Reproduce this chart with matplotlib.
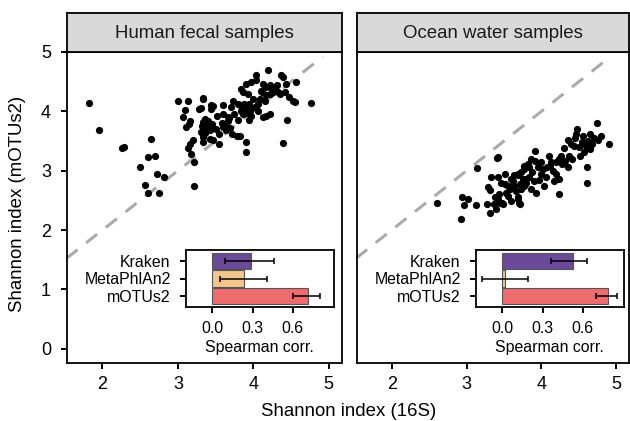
import matplotlib
matplotlib.use("Agg")
import matplotlib.pyplot as plt
import numpy as np

plt.rcParams['font.family'] = ['Liberation Sans', 'DejaVu Sans']

# ---------------- data ----------------
panel_titles = ["Human fecal samples", "Ocean water samples"]

fecal_x = [1.82, 1.95, 2.26, 2.28, 2.65, 2.61, 2.70, 2.50, 2.72, 2.82, 2.57, 2.61, 2.75, 3.22,
           3.00, 3.13, 3.10, 3.33, 3.31, 3.28, 3.44, 3.44, 3.07, 3.16, 3.15, 3.11, 3.60, 3.73, 3.71, 3.60,
           3.36, 3.34, 3.40, 3.32, 3.38, 3.45, 3.42, 3.47, 3.36,
           3.31, 3.35, 3.33, 3.42, 3.47, 3.55,
           3.62, 3.66, 3.64, 3.69, 3.60, 3.66, 3.68, 3.80, 3.78, 3.82, 3.55, 3.20, 3.16, 3.13, 3.18, 3.33,
           3.22, 3.91, 3.91,
           3.93, 3.84, 3.86, 3.91, 4.03, 4.03, 3.97,
           3.82, 3.86, 3.84, 3.88, 3.91, 3.86, 3.93, 3.95, 3.90, 3.80, 3.96,
           3.97, 3.95, 4.06, 4.02, 4.06,
           4.13, 4.17, 4.22, 4.20, 4.11, 4.17, 4.22, 4.26, 4.15, 4.09, 4.29, 4.31, 4.37, 4.40, 4.44, 4.42,
           4.35, 4.57, 4.48, 4.53, 4.55, 4.77, 4.45, 4.40, 4.22, 4.17, 4.13, 4.33,
           3.46, 3.34, 3.52, 3.58, 3.75, 4.00, 4.25, 4.10, 3.72, 3.50]
fecal_y = [4.14, 3.69, 3.38, 3.40, 3.54, 3.23, 3.25, 3.06, 2.94, 2.89, 2.76, 2.63, 2.62, 2.75,
           4.18, 4.17, 4.03, 4.20, 4.05, 4.04, 4.10, 4.04, 3.90, 3.84, 3.79, 3.73, 4.10, 4.18, 4.07, 3.96,
           3.87, 3.82, 3.84, 3.76, 3.73, 3.79, 3.68, 3.72, 3.63,
           3.66, 3.68, 3.56, 3.54, 3.51, 3.62,
           3.78, 3.84, 3.68, 3.72, 3.74, 3.90, 3.88, 3.85, 3.59, 3.59, 3.45, 3.51, 3.45, 3.38, 3.28, 3.48,
           3.14, 3.48, 3.31,
           4.30, 4.38, 4.32, 4.46, 4.62, 4.52, 4.49,
           4.10, 4.05, 4.00, 4.12, 3.98, 3.95, 4.05, 4.12, 4.08, 4.13, 4.00,
           3.93, 3.85, 4.12, 4.07, 4.01,
           4.46, 4.41, 4.44, 4.69, 4.32, 4.27, 4.30, 4.32, 4.18, 4.21, 4.41, 4.44, 4.61, 4.58, 4.46, 4.32,
           4.30, 4.49, 4.24, 4.18, 4.15, 4.14, 3.85, 3.46, 3.96, 3.93, 3.90, 4.32,
           4.09, 4.22, 3.92, 3.80, 3.95, 4.20, 4.38, 4.35, 3.62, 3.70]

ocean_x = [2.61, 2.92, 2.94, 3.02, 2.97, 3.12, 3.27, 3.31, 3.39, 3.37, 3.45, 3.48, 3.70, 3.14, 3.41,
           3.33, 3.42, 3.29, 3.31, 3.51, 3.46, 3.51, 3.38, 3.42, 3.49, 3.44, 3.53, 3.60, 3.64, 3.69,
           3.58, 3.62, 3.66, 3.71, 3.69, 3.73, 3.77, 3.80, 3.77, 3.55, 3.60,
           4.74, 4.90, 4.79, 4.76, 4.65, 4.48, 4.46, 4.35, 4.39, 4.43, 4.54, 4.59, 4.65, 4.57, 4.52,
           4.61, 4.61, 4.37, 4.32, 4.28, 4.35, 4.41, 4.26, 4.24, 4.19, 4.10, 4.13, 4.08, 4.15, 4.19,
           4.24, 4.17, 4.24, 3.91, 3.86, 3.91, 3.82, 3.84, 3.88, 3.95, 4.02, 3.99, 4.06, 4.04, 3.77,
           3.73, 3.69, 3.75, 3.80, 3.64, 3.55, 3.86, 3.93, 3.69, 3.71, 3.42,
           4.70, 4.62, 4.50, 4.45, 4.55, 4.68, 4.30, 4.00, 3.97, 3.90, 3.62, 3.84, 4.12]
ocean_y = [2.45, 2.18, 2.55, 2.52, 2.42, 2.43, 2.44, 2.29, 2.36, 2.44, 2.45, 2.45, 2.45, 3.05, 3.21,
           2.89, 2.89, 2.72, 2.68, 2.94, 2.80, 2.77, 2.55, 2.52, 2.44, 2.61, 2.63, 2.86, 2.92, 2.94,
           2.69, 2.75, 2.66, 2.77, 2.52, 2.69, 2.75, 2.86, 3.08, 2.58, 2.49,
           3.80, 3.45, 3.59, 3.52, 3.62, 3.70, 3.62, 3.51, 3.45, 3.42, 3.48, 3.42, 3.37, 3.31, 3.25,
           3.06, 2.80, 3.25, 3.17, 3.11, 3.06, 3.20, 3.25, 3.20, 3.14, 3.25, 3.14, 3.06, 3.00, 2.94,
           2.86, 2.83, 2.61, 3.34, 3.20, 3.17, 3.11, 3.06, 2.97, 3.06, 3.03, 2.94, 2.89, 2.75, 3.03,
           2.97, 2.92, 2.86, 2.80, 2.75, 2.75, 2.69, 2.63, 2.55, 2.44, 3.23,
           3.55, 3.50, 3.40, 3.55, 3.58, 3.45, 3.38, 3.15, 2.85, 2.83, 2.82, 2.90, 3.08]

methods = ["Kraken", "MetaPhlAn2", "mOTUs2"]
method_colors = ["#6B4A99", "#F4C68D", "#EE6C6E"]
fecal_corr = [0.287, 0.239, 0.714]
fecal_lo = [0.095, 0.060, 0.600]
fecal_hi = [0.458, 0.408, 0.804]
ocean_corr = [0.525, 0.018, 0.787]
ocean_lo = [0.366, -0.154, 0.697]
ocean_hi = [0.634, 0.194, 0.856]

main_ticks = [0, 1, 2, 3, 4, 5]
x_ticks = [2, 3, 4, 5]
inset_ticks = [0.0, 0.3, 0.6]

# ---------------- layout ----------------
W, H = 630, 421
fig = plt.figure(figsize=(W / 100, H / 100), dpi=100)


def box(x0, y0, x1, y1):
    return [x0 / W, 1 - y1 / H, (x1 - x0) / W, (y1 - y0) / H]


panels = [
    dict(title=panel_titles[0], x=fecal_x, y=fecal_y, corr=fecal_corr, lo=fecal_lo, hi=fecal_hi,
         ax=(67, 52, 341.5, 363), strip=(67, 13, 341.5, 52), inset=(185.7, 250.3, 334, 306.7), ylab=True),
    dict(title=panel_titles[1], x=ocean_x, y=ocean_y, corr=ocean_corr, lo=ocean_lo, hi=ocean_hi,
         ax=(356.5, 52, 629, 363), strip=(356.5, 13, 629, 52), inset=(475.7, 250.3, 624, 306.7), ylab=False),
]

for p in panels:
    ax = fig.add_axes(box(*p["ax"]))
    ax.set_xlim(1.53, 5.17)
    ax.set_ylim(-0.24, 5.0)
    lims = np.array([1.0, 4.92])
    ax.plot(lims, lims, color="#ABABAB", lw=2.2, dashes=(4.6, 3.6), zorder=1,
            dash_capstyle='butt')
    ax.scatter(p["x"], p["y"], s=27, color="black", linewidths=0, zorder=2)
    ax.set_xticks(x_ticks)
    ax.set_yticks(main_ticks)
    ax.tick_params(direction="out", length=4.5, width=1.4, labelsize=13, colors="black")
    ax.tick_params(axis="x", pad=5)
    ax.tick_params(axis="y", pad=7)
    if not p["ylab"]:
        ax.tick_params(axis="y", left=False, labelleft=False)
    for s in ax.spines.values():
        s.set_linewidth(1.3)
        s.set_color("black")

    st = fig.add_axes(box(*p["strip"]))
    st.set_xticks([])
    st.set_yticks([])
    st.set_facecolor("#D9D9D9")
    for s in st.spines.values():
        s.set_linewidth(1.3)
        s.set_color("black")
    st.text(0.5, 0.48, p["title"], ha="center", va="center", fontsize=13.4, color="#1A1A1A",
            transform=st.transAxes)

    ia = fig.add_axes(box(*p["inset"]))
    ypos = np.arange(len(methods))[::-1] + 1.0
    err = [np.array(p["corr"]) - np.array(p["lo"]), np.array(p["hi"]) - np.array(p["corr"])]
    ia.barh(ypos, p["corr"], height=0.9, color=method_colors, edgecolor="#555555", linewidth=0.8, zorder=2)
    ia.errorbar(p["corr"], ypos, xerr=err, fmt="none", ecolor="black", elinewidth=1.1, capsize=2.3,
                capthick=1.1, zorder=3)
    ia.set_xlim(-0.2, 0.908)
    ia.set_ylim(0.42, 3.58)
    ia.set_yticks(ypos)
    ia.set_yticklabels(methods)
    ia.set_xticks(inset_ticks)
    ia.set_xticklabels(["0.0", "0.3", "0.6"])
    ia.tick_params(direction="out", length=4.3, width=1.4, labelsize=11.4, colors="black")
    ia.tick_params(axis="y", pad=6.5)
    ia.tick_params(axis="x", pad=6)
    ia.set_xlabel("Spearman corr.", fontsize=11.4, labelpad=3)
    for s in ia.spines.values():
        s.set_linewidth(1.3)
        s.set_color("black")

fig.text(349 / W, 1 - 411 / H, "Shannon index (16S)", ha="center", va="center", fontsize=13.4)
fig.text(18 / W, 1 - 204 / H, "Shannon index (mOTUs2)", ha="center", va="center", fontsize=13.4,
         rotation=90)

fig.savefig("out.png", dpi=100)
